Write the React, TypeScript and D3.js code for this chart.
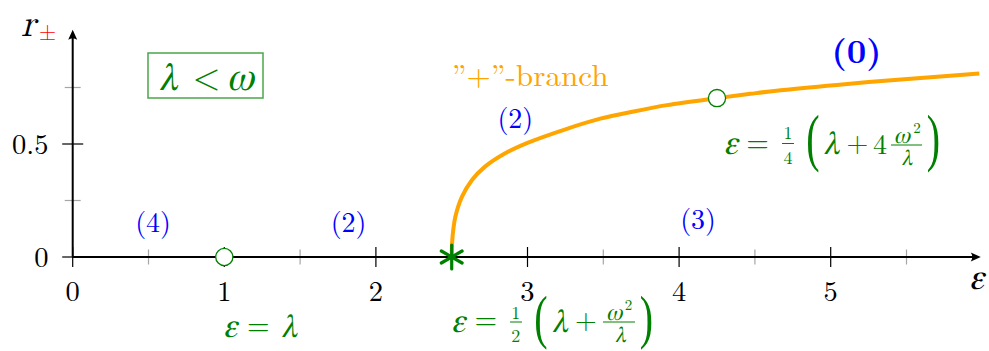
import React from 'react';
import * as d3 from 'd3';

const W = 989;
const H = 351;

// "+"-branch of the amplitude r_+ as a function of the driving ε
const branchEps = [2.5, 2.503, 2.51, 2.524, 2.568, 2.634, 2.72, 2.853, 3.0, 3.25, 3.48, 3.7, 3.92, 4.25, 4.47, 4.67, 5.11, 5.55, 5.98];
const branchR = [0, 0.066, 0.118, 0.178, 0.267, 0.341, 0.4, 0.459, 0.505, 0.565, 0.612, 0.644, 0.672, 0.703, 0.722, 0.738, 0.766, 0.79, 0.812];

// open circles: ε = λ on the axis, ε = ¼(λ + 4ω²/λ) on the branch
const openEps = [1, 4.25];
const openR = [0, 0.703];

// bifurcation point ε = ½(λ + ω²/λ)
const starEps = [2.5];
const starR = [0];

// axes
const xMajor = [0, 1, 2, 3, 4, 5];
const xMinor = [0.5, 1.5, 2.5, 3.5, 4.5, 5.5];
const xTickLabels = ['0', '1', '2', '3', '4', '5'];
const yMajor = [0, 0.5];
const yMinor = [0.25, 0.75];
const yTickLabels = ['0', '0.5'];

// number of stable states in each region
const regionText = ['(4)', '(2)', '(2)', '(3)'];
const regionEps = [0.53, 1.82, 2.92, 4.125];
const regionR = [0.146, 0.146, 0.606, 0.155];

// roman text in Latin Modern, Greek letters in a Times-like face
const cm = '"Latin Modern Roman", "Liberation Serif", "FreeSerif"';
const gk = '"FreeSerif", "Liberation Serif"';
const tm = '"Liberation Serif", "FreeSerif"';
const GREEN = '#008000';
const BLUE = '#0000ff';
const ORANGE = '#ffa500';

// big stretched delimiter, kept as text
function BigParen({ ch, cx, top, bottom, color }: { ch: string; cx: number; top: number; bottom: number; color: string }) {
  const fs = 40;
  const h = 0.91 * fs;
  const sy = (bottom - top) / h;
  const base = top + 0.69 * fs * sy;
  return (
    <text transform={`translate(${cx},${base}) scale(1,${sy})`} fontSize={fs} textAnchor="middle" fill={color} style={{ fontFamily: tm }}>
      {ch}
    </text>
  );
}

// math-italic letter: upright serif glyph slanted by a skew
function Gk({ cx, y, fs, children, color = GREEN, family = gk }: any) {
  return (
    <text transform={`translate(${cx},${y}) skewX(-14)`} fontSize={fs} textAnchor="middle" fill={color} style={{ fontFamily: family }}>
      {children}
    </text>
  );
}

// upright symbol or digit
function Up({ cx, y, fs, children, color = GREEN }: any) {
  return (
    <text x={cx} y={y} fontSize={fs} textAnchor="middle" fill={color} style={{ fontFamily: cm }}>
      {children}
    </text>
  );
}

export default function App() {
  const x = d3.scaleLinear().domain([0, 6]).range([72.7, 982.3]);
  const y = d3.scaleLinear().domain([0, 1]).range([257, 31]);

  const pts: [number, number][] = branchEps.map((e, i) => [e, branchR[i]]);
  const line = d3
    .line<[number, number]>()
    .x((d) => x(d[0]))
    .y((d) => y(d[1]))
    .curve(d3.curveCatmullRom.alpha(0.5));

  const x0 = x(0);
  const y0 = y(0);
  const xTip = x(5.99);
  const yTip = y(1.005);

  // asterisk arms at 90°, 30°, 150°
  const armLen = 12;
  const arms = [90, 30, 150].map((a) => (a * Math.PI) / 180);

  // math axes of the two displayed formulas
  const ax2 = 322; // ε = ½(...)
  const ax3 = 145; // ε = ¼(...)

  return (
    <svg width={W} height={H} style={{ position: 'absolute', left: 0, top: 0, background: '#fff' }}>
      <rect width={W} height={H} fill="#fff" />

      {/* minor ticks */}
      {xMinor.map((v) => (
        <line key={'xm' + v} x1={x(v)} x2={x(v)} y1={y0 - 7.5} y2={y0 + 7.5} stroke="#a6a6a6" strokeWidth={1.2} />
      ))}
      {yMinor.map((v) => (
        <line key={'ym' + v} x1={x0 - 8} x2={x0 + 8} y1={y(v)} y2={y(v)} stroke="#a6a6a6" strokeWidth={1.2} />
      ))}
      {/* major ticks */}
      {xMajor.map((v) => (
        <line key={'xM' + v} x1={x(v)} x2={x(v)} y1={y0 - 10} y2={y0 + 10} stroke="#000" strokeWidth={1.2} />
      ))}
      {yMajor.map((v) => (
        <line key={'yM' + v} x1={x0 - 10.5} x2={x0 + 10.5} y1={y(v)} y2={y(v)} stroke="#000" strokeWidth={1.2} />
      ))}

      {/* axes with arrow heads */}
      <line x1={x0} x2={xTip - 4} y1={y0} y2={y0} stroke="#000" strokeWidth={2} />
      <line x1={x0} x2={x0} y1={y0} y2={yTip + 4} stroke="#000" strokeWidth={2} />
      <path d={`M${xTip},${y0} L${xTip - 10},${y0 - 4.5} Q${xTip - 7},${y0} ${xTip - 10},${y0 + 4.5} Z`} fill="#000" />
      <path d={`M${x0},${yTip} L${x0 - 4.5},${yTip + 10} Q${x0},${yTip + 7} ${x0 + 4.5},${yTip + 10} Z`} fill="#000" />

      {/* tick labels */}
      {xMajor.map((v, i) => (
        <text key={'xl' + v} x={x(v)} y={301} fontSize={28.5} textAnchor="middle" style={{ fontFamily: cm }} fill="#000">
          {xTickLabels[i]}
        </text>
      ))}
      {yMajor.map((v, i) => (
        <text key={'yl' + v} x={48.5} y={y(v) + 9.5} fontSize={28.5} textAnchor="end" style={{ fontFamily: cm }} fill="#000">
          {yTickLabels[i]}
        </text>
      ))}

      {/* axis titles */}
      <Gk cx={976.5} y={289} fs={36} color="#000">ε</Gk>
      <Gk cx={28.5} y={36} fs={38} color="#000" family={cm}>r</Gk>
      <Up cx={47.5} y={39.5} fs={22} color="#ff0000">±</Up>

      {/* branch */}
      <path d={line(pts) || ''} fill="none" stroke={ORANGE} strokeWidth={4} strokeLinecap="butt" />

      {/* markers */}
      {openEps.map((e, i) => (
        <circle key={'o' + i} cx={x(e)} cy={y(openR[i])} r={8.6} fill="#fff" stroke={GREEN} strokeWidth={1.3} />
      ))}
      {starEps.map((e, i) => (
        <g key={'s' + i} transform={`translate(${x(e)},${y(starR[i])})`}>
          {arms.map((a, k) => (
            <line
              key={k}
              x1={-armLen * Math.cos(a)}
              y1={armLen * Math.sin(a)}
              x2={armLen * Math.cos(a)}
              y2={-armLen * Math.sin(a)}
              stroke={GREEN}
              strokeWidth={3.2}
              strokeLinecap="round"
            />
          ))}
        </g>
      ))}

      {/* region counts */}
      {regionText.map((t, i) => (
        <text key={'r' + i} x={x(regionEps[i])} y={y(regionR[i]) + 7.5} fontSize={28} textAnchor="middle" style={{ fontFamily: cm }} fill={BLUE}>
          {t}
        </text>
      ))}
      <text x={856.5} y={63} fontSize={34} fontWeight="bold" textAnchor="middle" style={{ fontFamily: cm }} fill={BLUE} textLength={50} lengthAdjust="spacingAndGlyphs">
        (0)
      </text>

      {/* branch name */}
      <text x={451.7} y={86} fontSize={30} style={{ fontFamily: cm }} fill={ORANGE} textLength={157} lengthAdjust="spacingAndGlyphs">
        {'\u201D+\u201D-branch'}
      </text>

      {/* λ < ω box */}
      <rect x={148} y={53} width={115} height={45} fill="none" stroke="#4aa64a" strokeWidth={1.5} />
      <Gk cx={168.5} y={90} fs={40}>λ</Gk>
      <Up cx={206.5} y={88.7} fs={36}>{'<'}</Up>
      <Gk cx={240} y={90} fs={40}>ω</Gk>

      {/* ε = λ */}
      <Gk cx={230.3} y={336.5} fs={34}>ε</Gk>
      <Up cx={258.3} y={335} fs={29}>=</Up>
      <Gk cx={289.2} y={336.5} fs={34}>λ</Gk>

      {/* ε = ½(λ + ω²/λ) */}
      <Gk cx={458.3} y={ax2 + 10} fs={34}>ε</Gk>
      <Up cx={485.8} y={ax2 + 7.3} fs={29}>=</Up>
      <Up cx={515.8} y={ax2 - 3.5} fs={18}>1</Up>
      <line x1={510} x2={522} y1={ax2} y2={ax2} stroke={GREEN} strokeWidth={1} />
      <Up cx={515.8} y={ax2 + 19.7} fs={18}>2</Up>
      <BigParen ch="(" cx={540.8} top={296.7} bottom={350} color={GREEN} />
      <Gk cx={560} y={ax2 + 10} fs={34}>λ</Gk>
      <Up cx={585.8} y={ax2 + 7} fs={28}>+</Up>
      <Gk cx={614} y={ax2 - 2.5} fs={24}>ω</Gk>
      <Up cx={628.5} y={ax2 - 12} fs={15}>2</Up>
      <line x1={603} x2={635} y1={ax2} y2={ax2} stroke={GREEN} strokeWidth={1} />
      <Gk cx={620.5} y={ax2 + 19.7} fs={23}>λ</Gk>
      <BigParen ch=")" cx={646.5} top={296.7} bottom={350} color={GREEN} />

      {/* ε = ¼(λ + 4ω²/λ) */}
      <Gk cx={730.8} y={ax3 + 8.5} fs={34}>ε</Gk>
      <Up cx={757.5} y={ax3 + 7.3} fs={29}>=</Up>
      <Up cx={788} y={ax3 - 6} fs={18}>1</Up>
      <line x1={782} x2={794} y1={ax3 - 1.5} y2={ax3 - 1.5} stroke={GREEN} strokeWidth={1} />
      <Up cx={788} y={ax3 + 18.5} fs={18}>4</Up>
      <BigParen ch="(" cx={813} top={115} bottom={173} color={GREEN} />
      <Gk cx={831.5} y={ax3 + 8.5} fs={34}>λ</Gk>
      <Up cx={857.5} y={ax3 + 7} fs={28}>+</Up>
      <Up cx={880} y={ax3 + 8.5} fs={28}>4</Up>
      <Gk cx={901.7} y={ax3 - 2.5} fs={24}>ω</Gk>
      <Up cx={917} y={ax3 - 12} fs={15}>2</Up>
      <line x1={891} x2={922} y1={ax3} y2={ax3} stroke={GREEN} strokeWidth={1} />
      <Gk cx={907} y={ax3 + 20} fs={23}>λ</Gk>
      <BigParen ch=")" cx={933.3} top={115} bottom={173} color={GREEN} />
    </svg>
  );
}
